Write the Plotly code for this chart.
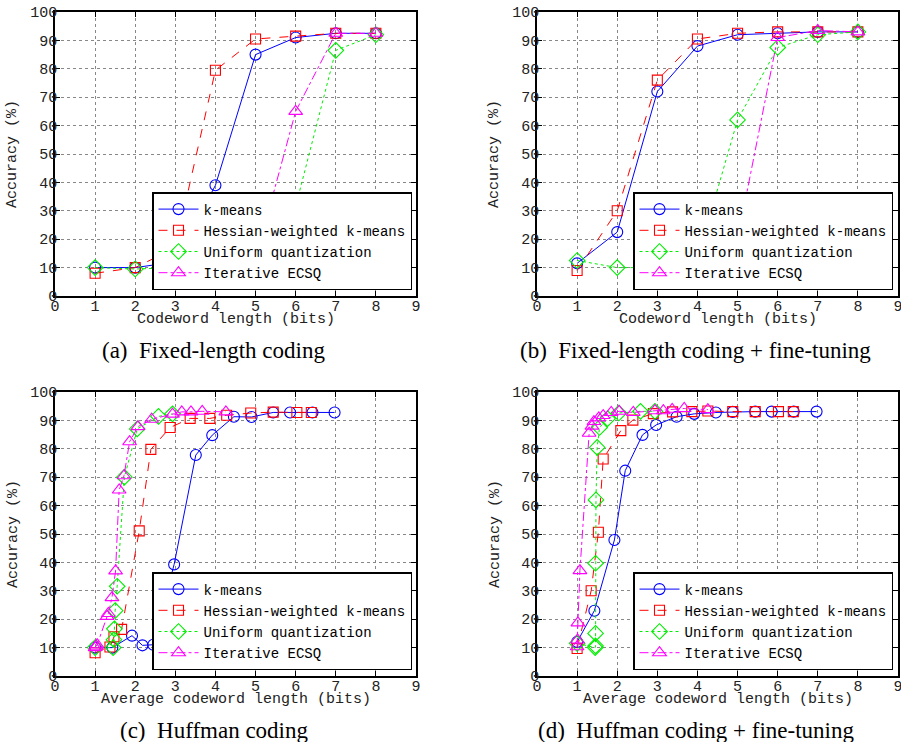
import plotly.graph_objects as go

# ---------------- data ----------------
names = ["k-means", "Hessian-weighted k-means", "Uniform quantization", "Iterative ECSQ"]

# (a) Fixed-length coding
x_a = [1, 2, 3, 4, 5, 6, 7, 8]
km_a = [10, 10, 12, 39, 85, 91, 92.5, 92.5]
hw_a = [8, 10, 17, 79.5, 90.5, 91.5, 92.5, 92.5]
uq_a = [10, 9.5, 10, 10, 16, 31.5, 86.5, 92]
ec_a_x = [3, 4, 5, 6, 7, 8]
ec_a = [10, 10, 13, 65, 92.5, 92.5]

# (b) Fixed-length coding + fine-tuning
x_b = [1, 2, 3, 4, 5, 6, 7, 8]
km_b = [11.5, 22.5, 72, 88, 92, 92.5, 93, 93]
hw_b = [9, 30, 76, 90.5, 92.5, 93, 93, 93]
uq_b = [12.5, 10, 10, 13, 62, 87.5, 92, 93]
ec_b_x = [3, 4, 5, 6, 7, 8]
ec_b = [10, 10, 20, 91, 93.5, 93]

# (c) Huffman coding
km_c_x = [1.0, 1.43, 1.92, 2.18, 2.45, 2.97, 3.51, 3.92, 4.46, 4.90, 5.44, 5.86, 6.42, 6.97]
km_c = [10, 10, 14.2, 10.8, 11, 39.3, 77.8, 84.8, 91.3, 91.2, 92.8, 92.8, 92.8, 92.8]
hw_c_x = [1.0, 1.37, 1.47, 1.66, 2.10, 2.39, 2.87, 3.37, 3.86, 4.28, 4.88, 5.44, 6.03, 6.39]
hw_c = [8.2, 10.2, 13.8, 16.4, 51.1, 79.8, 87.5, 90.7, 90.7, 91.8, 92.6, 92.9, 92.8, 92.8]
uq_c_x = [1.0, 1.45, 1.47, 1.48, 1.50, 1.55, 1.73, 2.05, 2.58, 2.93]
uq_c = [10, 10, 12.8, 16.6, 23, 31.6, 70, 87, 91.4, 92.3]
ec_c_x = [1.0, 1.03, 1.05, 1.30, 1.33, 1.42, 1.51, 1.60, 1.72, 1.86, 2.07, 2.41, 2.93, 3.16, 3.39, 3.67, 4.26]
ec_c = [10, 10.5, 11, 21, 22, 27.6, 37, 65.5, 70.5, 82.5, 87.8, 90.4, 92.2, 93, 93, 93.2, 93]

# (d) Huffman coding + fine-tuning
km_d_x = [1.0, 1.43, 1.93, 2.20, 2.63, 2.97, 3.48, 3.92, 4.46, 4.88, 5.44, 5.85, 6.40, 6.97]
km_d = [12, 23, 47.9, 72.3, 84.9, 88.4, 91.3, 92.3, 92.8, 93.0, 93.1, 93.1, 93.1, 93.1]
hw_d_x = [1.0, 1.35, 1.53, 1.65, 2.09, 2.39, 2.90, 3.38, 3.86, 4.26, 4.88, 5.44, 6.02, 6.39]
hw_d = [9.7, 30, 50.6, 76.4, 86.4, 90.1, 92.4, 93.0, 93.1, 93.3, 93.1, 93.1, 93.1, 93.1]
uq_d_x = [1.0, 1.45, 1.46, 1.46, 1.46, 1.47, 1.50, 1.56, 1.76, 2.04, 2.58, 2.94]
uq_d = [11.5, 10, 10.6, 15, 39.7, 62, 80.5, 87.5, 90.6, 92.6, 93.2, 93.2]
ec_d_x = [1.0, 1.01, 1.02, 1.07, 1.30, 1.37, 1.42, 1.54, 1.65, 1.85, 2.05, 2.40, 2.94, 3.15, 3.37, 3.67, 4.26]
ec_d = [10.3, 12.7, 18.7, 37.1, 85.5, 88, 89.6, 90.9, 91.7, 92.8, 93.2, 92.8, 93.4, 93.4, 93.9, 94.2, 93.8]

captions = ["(a)  Fixed-length coding", "(b)  Fixed-length coding + fine-tuning",
            "(c)  Huffman coding", "(d)  Huffman coding + fine-tuning"]
xtitles = ["Codeword length (bits)", "Codeword length (bits)",
           "Average codeword length (bits)", "Average codeword length (bits)"]
ytitle = "Accuracy (%)"

# ---------------- styles ----------------
W, H = 901, 742
MONO = "Liberation Mono, Courier New, monospace"
SERIF = "Liberation Serif, Times New Roman, serif"


def fx(px):
    return px / W


def fy(py):
    return 1 - py / H


styles = [
    dict(color="#0000ff", dash="solid", symbol="circle-open", size=11),
    dict(color="#ff0000", dash="dash", symbol="square-open", size=10),
    dict(color="#00ee00", dash="dot", symbol="diamond-open", size=12),
    dict(color="#ff00ff", dash="dashdot", symbol="triangle-up-open", size=12),
]

panels = [
    [(x_a, km_a), (x_a, hw_a), (x_a, uq_a), (ec_a_x, ec_a)],
    [(x_b, km_b), (x_b, hw_b), (x_b, uq_b), (ec_b_x, ec_b)],
    [(km_c_x, km_c), (hw_c_x, hw_c), (uq_c_x, uq_c), (ec_c_x, ec_c)],
    [(km_d_x, km_d), (hw_d_x, hw_d), (uq_d_x, uq_d), (ec_d_x, ec_d)],
]

# pixel boxes of each plotting area: (left, right, top, bottom)
boxes = [(55, 416, 12, 296), (537, 898, 12, 296), (55, 416, 392, 676), (537, 898, 392, 676)]
legend_boxes = [(412, 290), (893, 290), (412, 670), (893, 670)]  # right, bottom

fig = go.Figure()
for p, series in enumerate(panels):
    ax = "" if p == 0 else str(p + 1)
    for s, (xs, ys) in enumerate(series):
        st = styles[s]
        fig.add_trace(go.Scatter(
            x=xs, y=ys, mode="lines+markers", name=names[s],
            xaxis="x" + ax, yaxis="y" + ax,
            legend="legend" + ax,
            line=dict(color=st["color"], dash=st["dash"], width=1),
            marker=dict(symbol=st["symbol"], size=st["size"], color=st["color"],
                        line=dict(color=st["color"], width=1.1)),
        ))

layout = dict(width=W, height=H, margin=dict(l=0, r=0, t=0, b=0, autoexpand=False),
              paper_bgcolor="white", plot_bgcolor="white", annotations=[])

for p in range(4):
    ax = "" if p == 0 else str(p + 1)
    l, r, t, b = boxes[p]
    common = dict(showline=True, linecolor="black", linewidth=1.5, mirror="ticks",
                  ticks="inside", ticklen=5, tickcolor="black", tickwidth=1,
                  showgrid=True, gridcolor="#888888", griddash="dot", gridwidth=1,
                  zeroline=False, automargin=False, ticklabeloverflow="allow",
                  tickfont=dict(family=MONO, size=15, color="#222222"))
    layout["xaxis" + ax] = dict(common, domain=[fx(l), fx(r)], range=[0, 9], dtick=1,
                                tick0=0, anchor="y" + ax, ticklabelstandoff=-5)
    layout["yaxis" + ax] = dict(common, domain=[fy(b), fy(t)], range=[0, 100],
                                dtick=10, tick0=0, anchor="x" + ax, ticklabelstandoff=-7)
    lr, lb = legend_boxes[p]
    layout["legend" + ax] = dict(x=fx(lr), y=fy(lb), xanchor="right", yanchor="bottom",
                                 bgcolor="white", bordercolor="black", borderwidth=1.5,
                                 font=dict(family=MONO, size=14, color="black"),
                                 tracegroupgap=0, itemwidth=40,
                                 traceorder="normal")
    cx = (l + r) / 2
    # x-axis title
    layout["annotations"].append(dict(text=xtitles[p], x=fx(cx), y=fy(b + 23),
                                      xref="paper", yref="paper", showarrow=False,
                                      xanchor="center", yanchor="middle",
                                      font=dict(family=MONO, size=15, color="#222222")))
    # y-axis title
    layout["annotations"].append(dict(text=ytitle, x=fx(l - 42), y=fy((t + b) / 2),
                                      xref="paper", yref="paper", showarrow=False,
                                      textangle=-90, xanchor="center", yanchor="middle",
                                      font=dict(family=MONO, size=15, color="#222222")))
    # caption
    layout["annotations"].append(dict(text=captions[p], x=fx(cx - 22), y=fy(b + 54),
                                      xref="paper", yref="paper", showarrow=False,
                                      xanchor="center", yanchor="middle",
                                      font=dict(family=SERIF, size=23, color="black")))

fig.update_layout(**layout)
fig.write_html("out.html", config={"displayModeBar": False},
               post_script="document.body.style.margin='0px';")
